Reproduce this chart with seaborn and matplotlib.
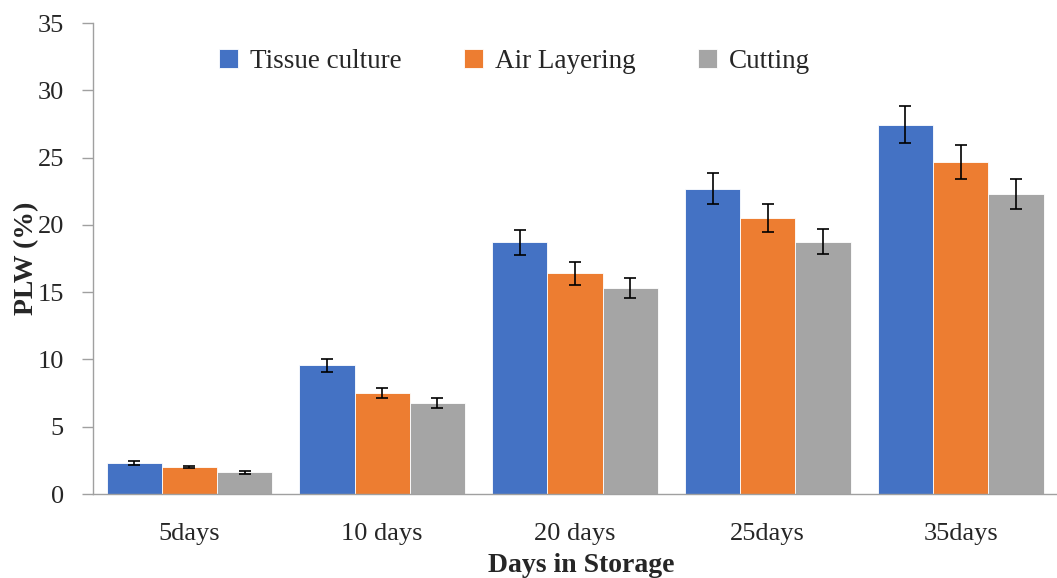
import pandas as pd
import seaborn as sns
import matplotlib.pyplot as plt

# values
days = ["5days", "10 days", "20 days", "25days", "35days"]
methods = ["Tissue culture", "Air Layering", "Cutting"]
tissue_culture = [2.3, 9.55, 18.7, 22.7, 27.45]
air_layering = [2.0, 7.5, 16.4, 20.5, 24.65]
cutting = [1.6, 6.75, 15.3, 18.75, 22.3]
tissue_err = [0.12, 0.5, 0.94, 1.14, 1.39]
air_err = [0.1, 0.37, 0.84, 1.04, 1.25]
cutting_err = [0.08, 0.36, 0.76, 0.94, 1.13]

colors = ["#4472C4", "#ED7D31", "#A5A5A5"]


def build_frame():
    rows = []
    for method, vals in zip(methods, [tissue_culture, air_layering, cutting]):
        for d, v in zip(days, vals):
            rows.append({"Days": d, "Method": method, "PLW": v})
    return pd.DataFrame(rows)


def main():
    sns.set_style("white")
    plt.rcParams['font.family'] = ['Liberation Serif', 'DejaVu Serif']

    df = build_frame()
    fig = plt.figure(figsize=(10.57, 5.78), dpi=100)
    ax = fig.add_axes([0.088, 0.1453, 0.912, 0.8149])

    sns.barplot(data=df, x="Days", y="PLW", hue="Method", order=days,
                hue_order=methods, palette=colors, saturation=1, errorbar=None,
                width=0.86, edgecolor="white", linewidth=0.6, ax=ax)

    for cont, errs in zip(ax.containers, [tissue_err, air_err, cutting_err]):
        xs = [p.get_x() + p.get_width() / 2 for p in cont.patches]
        ys = [p.get_height() for p in cont.patches]
        ax.errorbar(xs, ys, yerr=errs, fmt="none", ecolor="black",
                    elinewidth=1.2, capsize=4.5, capthick=1.2)

    ax.set_ylim(0, 35)
    ax.set_xlim(-0.5, 4.5)
    ax.set_yticks(range(0, 36, 5))
    ax.set_xticks([i - 0.5 for i in range(6)], minor=True)
    ax.tick_params(axis="x", which="major", length=0, pad=21, labelsize=19)
    ax.tick_params(axis="x", which="minor", length=8, color="#A0A0A0", width=1)
    ax.tick_params(axis="y", length=8, color="#A0A0A0", width=1, pad=13, labelsize=19)
    ax.tick_params(axis="both", left=True, bottom=True)

    for s in ["top", "right"]:
        ax.spines[s].set_visible(False)
    for s in ["left", "bottom"]:
        ax.spines[s].set_color("#A0A0A0")
        ax.spines[s].set_linewidth(1)

    ax.set_xlabel("")
    ax.set_ylabel("")
    fig.text(0.025, 0.553, "PLW (%)", rotation=90, ha="center", va="center",
             fontsize=20, fontweight="bold")
    fig.text(0.55, 0.022, "Days in Storage", ha="center", va="center",
             fontsize=20, fontweight="bold")

    ax.legend(loc="center", bbox_to_anchor=(0.487, 0.894),
              bbox_transform=fig.transFigure, ncol=3, frameon=False,
              fontsize=19.5, handlelength=0.7, handleheight=0.7,
              handletextpad=0.45, columnspacing=2.3)

    plt.savefig("out.png", dpi=100)
    plt.close()


if __name__ == '__main__':
    main()
